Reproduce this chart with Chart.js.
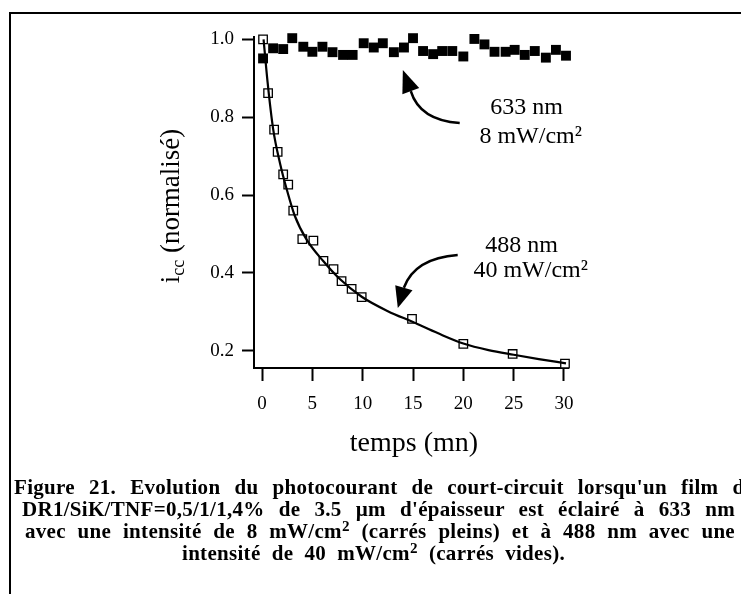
<!DOCTYPE html>
<html>
<head>
<meta charset="utf-8">
<script src="https://cdn.jsdelivr.net/npm/chart.js@4"></script>
<style>
    body { margin: 0; background: #fff; }
    #page { position: relative; width: 741px; height: 594px; overflow: hidden; background: #fff; }
    #frame { position: absolute; left: 9px; top: 12px; width: 800px; height: 700px;
             border-left: 2px solid #000; border-top: 2px solid #000; }
    canvas { position: absolute; left: 0; top: 0; }
    .cap { position: absolute; font-family: "Liberation Serif", "Times New Roman", serif;
           font-weight: bold; font-size: 21px; line-height: 22px; letter-spacing: 0.3px; color: #000;
           text-align: justify; text-align-last: justify; white-space: normal; }
    .cap sup { font-size: 0.72em; line-height: 0; vertical-align: 0.45em; }
</style>
</head>
<body>
<div id="page">
    <div id="frame"></div>
    <canvas id="chart" width="741" height="594"></canvas>
    <div class="cap" style="left:14px; top:476px; width:740px">Figure 21. Evolution du photocourant de court-circuit lorsqu'un film de</div>
    <div class="cap" style="left:22px; top:498px; width:713px">DR1/SiK/TNF=0,5/1/1,4% de 3.5 µm d'épaisseur est éclairé à 633 nm</div>
    <div class="cap" style="left:25px; top:520px; width:710px">avec une intensité de 8 mW/cm<sup>2</sup> (carrés pleins) et à 488 nm avec une</div>
    <div class="cap" style="left:182px; top:542px; width:383px">intensité de 40 mW/cm<sup>2</sup> (carrés vides).</div>
</div>
<script>
// temps (mn) / courant normalisé
const filledTime = [0.1, 1.1, 2.1, 3.0, 4.1, 5.0, 6.0, 7.0, 8.05, 9.0, 10.1, 11.1, 12.0, 13.1, 14.1, 15.0,
    16.0, 17.0, 17.9, 18.9, 20.0, 21.1, 22.1, 23.1, 24.2, 25.1, 26.1, 27.1, 28.2, 29.2, 30.2];
const filledValue = [0.951, 0.977, 0.975, 1.003, 0.981, 0.968, 0.981, 0.967, 0.96, 0.96, 0.99, 0.979, 0.99, 0.967, 0.979, 1.003,
    0.97, 0.962, 0.97, 0.97, 0.956, 1.001, 0.987, 0.968, 0.968, 0.973, 0.96, 0.97, 0.953, 0.973, 0.958];

const openTime = [0.1, 0.6, 1.2, 1.55, 2.1, 2.6, 3.1, 4.0, 5.1, 6.1, 7.1, 7.9, 8.9, 9.9, 14.9, 20.0, 24.9, 30.1];
const openValue = [1.0, 0.862, 0.768, 0.711, 0.653, 0.627, 0.56, 0.487, 0.483, 0.431, 0.41, 0.379, 0.359, 0.338, 0.282, 0.218, 0.192, 0.167];

const fitTime = [0.15, 0.55, 1.1, 1.8, 2.45, 3.25, 4.4, 6.1, 7.7, 9.9, 12.5, 15, 17.5, 20, 22.5, 25, 27.5, 30.2];
const fitValue = [1.0, 0.89, 0.77, 0.68, 0.615, 0.547, 0.487, 0.43, 0.385, 0.339, 0.302, 0.274, 0.245, 0.219, 0.202, 0.19, 0.179, 0.168];

const xTicks = [0, 5, 10, 15, 20, 25, 30];
const yTicks = [0.2, 0.4, 0.6, 0.8, 1.0];

// étiquettes + flèches, en coordonnées des données
const labels633 = ['633 nm', '8 mW/cm²'];
const labels488 = ['488 nm', '40 mW/cm²'];
const arrow633 = { tail: [19.64, 0.785], ctrl: [15.67, 0.792], base: [14.78, 0.867], tip: [13.99, 0.921] };
const arrow488 = { tail: [19.44, 0.446], ctrl: [15.18, 0.438], base: [14.09, 0.362], tip: [13.49, 0.310] };

const serif = '"Liberation Serif", "Times New Roman", serif';

function pairs(xs, ys) {
    return xs.map((x, i) => ({ x: x, y: ys[i] }));
}

const extras = {
    id: 'extras',
    afterDatasetsDraw(chart) {
        const ctx = chart.ctx;
        const xs = chart.scales.x, ys = chart.scales.y;
        const area = chart.chartArea;
        const px = p => [xs.getPixelForValue(p[0]), ys.getPixelForValue(p[1])];
        ctx.save();
        ctx.fillStyle = '#000';
        ctx.strokeStyle = '#000';

        // titre axe x
        ctx.font = '28px ' + serif;
        ctx.textAlign = 'center';
        ctx.textBaseline = 'middle';
        ctx.fillText('temps (mn)', (area.left + area.right) / 2 + 3, area.bottom + 76);

        // titre axe y : i_cc (normalisé)
        ctx.save();
        ctx.translate(179, 206);
        ctx.rotate(-Math.PI / 2);
        ctx.textAlign = 'left';
        ctx.textBaseline = 'alphabetic';
        const big = '27px ' + serif, small = '18px ' + serif;
        ctx.font = big;
        const w1 = ctx.measureText('i').width;
        const w3 = ctx.measureText(' (normalisé)').width;
        ctx.font = small;
        const w2 = ctx.measureText('cc').width;
        let sx = -(w1 + w2 + w3) / 2;
        ctx.font = big;
        ctx.fillText('i', sx, 0);
        ctx.font = small;
        ctx.fillText('cc', sx + w1, 5);
        ctx.font = big;
        ctx.fillText(' (normalisé)', sx + w1 + w2, 0);
        ctx.restore();

        // étiquettes
        ctx.font = '24px ' + serif;
        ctx.textAlign = 'center';
        ctx.textBaseline = 'alphabetic';
        let p = px([26.29, 0.808]); ctx.fillText(labels633[0], p[0], p[1]);
        p = px([26.69, 0.733]); ctx.fillText(labels633[1], p[0], p[1]);
        p = px([25.79, 0.454]); ctx.fillText(labels488[0], p[0], p[1]);
        p = px([26.69, 0.39]); ctx.fillText(labels488[1], p[0], p[1]);

        // flèches courbes
        [arrow633, arrow488].forEach(a => {
            const t = px(a.tail), c = px(a.ctrl), b = px(a.base), h = px(a.tip);
            ctx.lineWidth = 2.5;
            ctx.beginPath();
            ctx.moveTo(t[0], t[1]);
            ctx.quadraticCurveTo(c[0], c[1], b[0], b[1]);
            ctx.stroke();
            const dx = h[0] - b[0], dy = h[1] - b[1];
            const len = Math.hypot(dx, dy);
            const nx = -dy / len, ny = dx / len, hw = 9;
            ctx.beginPath();
            ctx.moveTo(h[0], h[1]);
            ctx.lineTo(b[0] + nx * hw, b[1] + ny * hw);
            ctx.lineTo(b[0] - nx * hw, b[1] - ny * hw);
            ctx.closePath();
            ctx.fill();
        });
        ctx.restore();
    }
};

new Chart(document.getElementById('chart').getContext('2d'), {
    type: 'scatter',
    data: {
        datasets: [
            {
                type: 'line',
                data: pairs(fitTime, fitValue),
                borderColor: '#000',
                borderWidth: 2.2,
                pointRadius: 0,
                cubicInterpolationMode: 'monotone',
                fill: false,
                clip: false
            },
            {
                data: pairs(openTime, openValue),
                pointStyle: 'rect',
                pointRadius: 6,
                backgroundColor: '#fff',
                borderColor: '#000',
                borderWidth: 1.3,
                clip: false
            },
            {
                data: pairs(filledTime, filledValue),
                pointStyle: 'rect',
                pointRadius: 7,
                backgroundColor: '#000',
                borderColor: '#000',
                borderWidth: 0,
                clip: false
            }
        ]
    },
    options: {
        responsive: false,
        animation: false,
        events: [],
        layout: { padding: { left: 0, top: 37, right: 173, bottom: 166 } },
        plugins: { legend: { display: false }, tooltip: { enabled: false } },
        scales: {
            x: {
                type: 'linear',
                min: -0.8,
                max: 30.4,
                afterFit: s => { s.height = 60; },
                afterBuildTicks: s => { s.ticks = xTicks.map(v => ({ value: v })); },
                grid: { drawOnChartArea: false, tickLength: 13, tickWidth: 2, tickColor: '#000' },
                border: { color: '#000', width: 2 },
                ticks: { color: '#000', padding: 12, maxRotation: 0, font: { family: serif, size: 19 } }
            },
            y: {
                type: 'linear',
                min: 0.156,
                max: 1.006,
                afterFit: s => { s.width = 254; },
                afterBuildTicks: s => { s.ticks = yTicks.map(v => ({ value: v })); },
                grid: { drawOnChartArea: false, tickLength: 12, tickWidth: 2, tickColor: '#000' },
                border: { color: '#000', width: 2 },
                ticks: { color: '#000', padding: 8, font: { family: serif, size: 19 },
                    callback: v => v.toFixed(1) }
            }
        }
    },
    plugins: [extras]
});
</script>
</body>
</html>
